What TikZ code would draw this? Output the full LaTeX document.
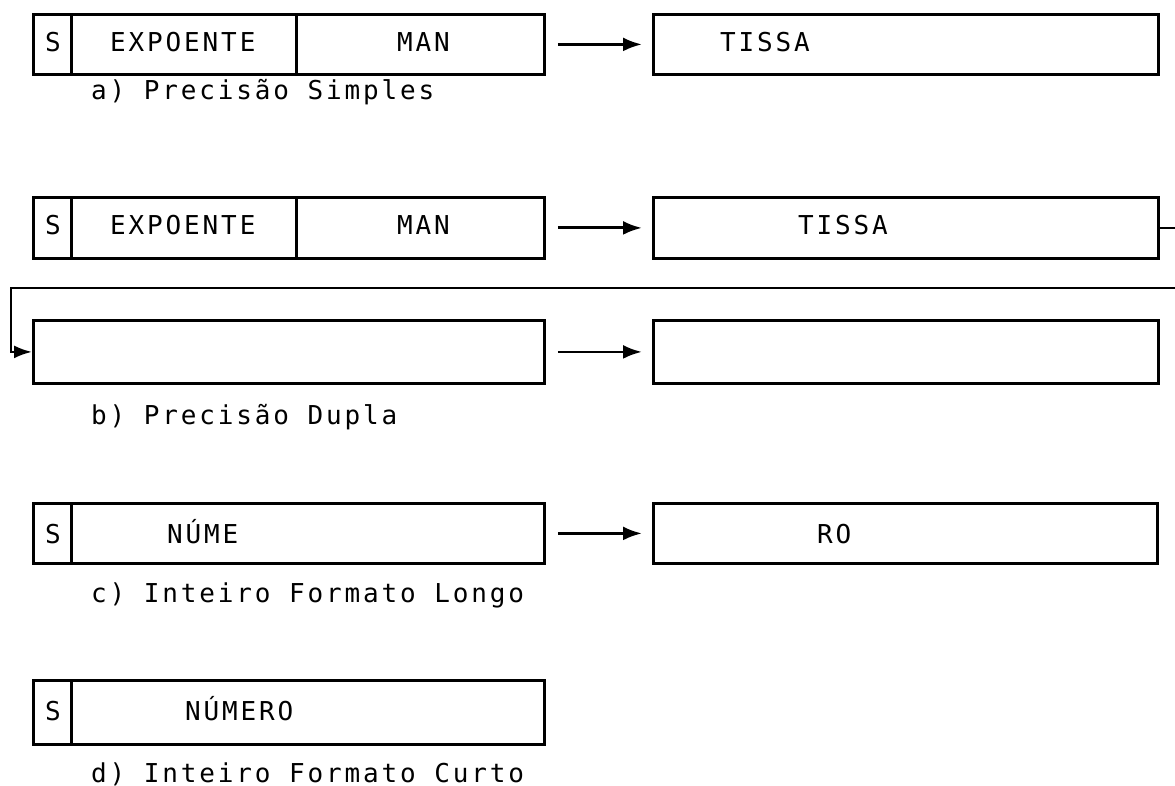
\documentclass[tikz,border=0pt]{standalone}
\usepackage{fontspec}
\newfontfamily\plotfont[LetterSpace=11]{DejaVu Sans Mono}
\usetikzlibrary{arrows.meta}
\begin{document}
\begin{tikzpicture}[x=1pt,y=-1pt,
  box/.style={draw, line width=2.8pt, rectangle, inner sep=0pt, anchor=north west},
  txt/.style={font=\plotfont\fontsize{26}{26}\selectfont, inner sep=0pt, anchor=base west},
  arr/.style={-{Latex[length=19pt,width=14pt]}, line width=2.8pt, shorten <=12pt, shorten >=10pt},
  conn/.style={-{Latex[length=18pt,width=13pt]}, line width=2.4pt}]
\useasboundingbox (0,0) rectangle (1175,786);
% row a
\node[box, minimum width=38pt, minimum height=60pt] (aS) at (32,13) {};
\node[box, minimum width=225pt, minimum height=60pt] (aE) at (70,13) {};
\node[box, minimum width=248pt, minimum height=60pt] (aM) at (295,13) {};
\node[box, minimum width=505pt, minimum height=60pt] (aT) at (652,13) {};
\draw[arr] (aM.east) -- (aT.west);
\node[txt] (taS) at (45,52) {S};
\node[txt] (taE) at (110,52) {EXPOENTE};
\node[txt] (taM) at (397,52) {MAN};
\node[txt] (taT) at (720,52) {TISSA};
\node[txt] (la) at (91,100) {a) Precisão Simples};
% row b
\node[box, minimum width=38pt, minimum height=61pt] (bS) at (32,196) {};
\node[box, minimum width=225pt, minimum height=61pt] (bE) at (70,196) {};
\node[box, minimum width=248pt, minimum height=61pt] (bM) at (295,196) {};
\node[box, minimum width=505pt, minimum height=61pt] (bT) at (652,196) {};
\draw[arr] (bM.east) -- (bT.west);
\node[txt] (tbS) at (45,235) {S};
\node[txt] (tbE) at (110,235) {EXPOENTE};
\node[txt] (tbM) at (397,235) {MAN};
\node[txt] (tbT) at (798,235) {TISSA};
\node[box, minimum width=511pt, minimum height=63pt] (bL2) at (32,319) {};
\node[box, minimum width=505pt, minimum height=63pt] (bR2) at (652,319) {};
\draw[arr] (bL2.east) -- (bR2.west);
\coordinate (cRt) at (1190,288);
\coordinate (cLt) at (11,288);
\draw[conn] (bT.east) -| (cRt) -- (cLt) |- (bL2.west);
\node[txt] (lb) at (91,424) {b) Precisão Dupla};
% row c
\node[box, minimum width=38pt, minimum height=60pt] (cS) at (32,502) {};
\node[box, minimum width=473pt, minimum height=60pt] (cN) at (70,502) {};
\node[box, minimum width=504pt, minimum height=60pt] (cR) at (652,502) {};
\draw[arr] (cN.east) -- (cR.west);
\node[txt] (tcS) at (45,543) {S};
\node[txt] (tcN) at (167,543) {NÚME};
\node[txt] (tcR) at (817,543) {RO};
\node[txt] (lc) at (91,602) {c) Inteiro Formato Longo};
% row d
\node[box, minimum width=38pt, minimum height=64pt] (dS) at (32,679) {};
\node[box, minimum width=473pt, minimum height=64pt] (dN) at (70,679) {};
\node[txt] (tdS) at (45,720) {S};
\node[txt] (tdN) at (185,720) {NÚMERO};
\node[txt] (ld) at (91,782) {d) Inteiro Formato Curto};
\end{tikzpicture}
\end{document}
